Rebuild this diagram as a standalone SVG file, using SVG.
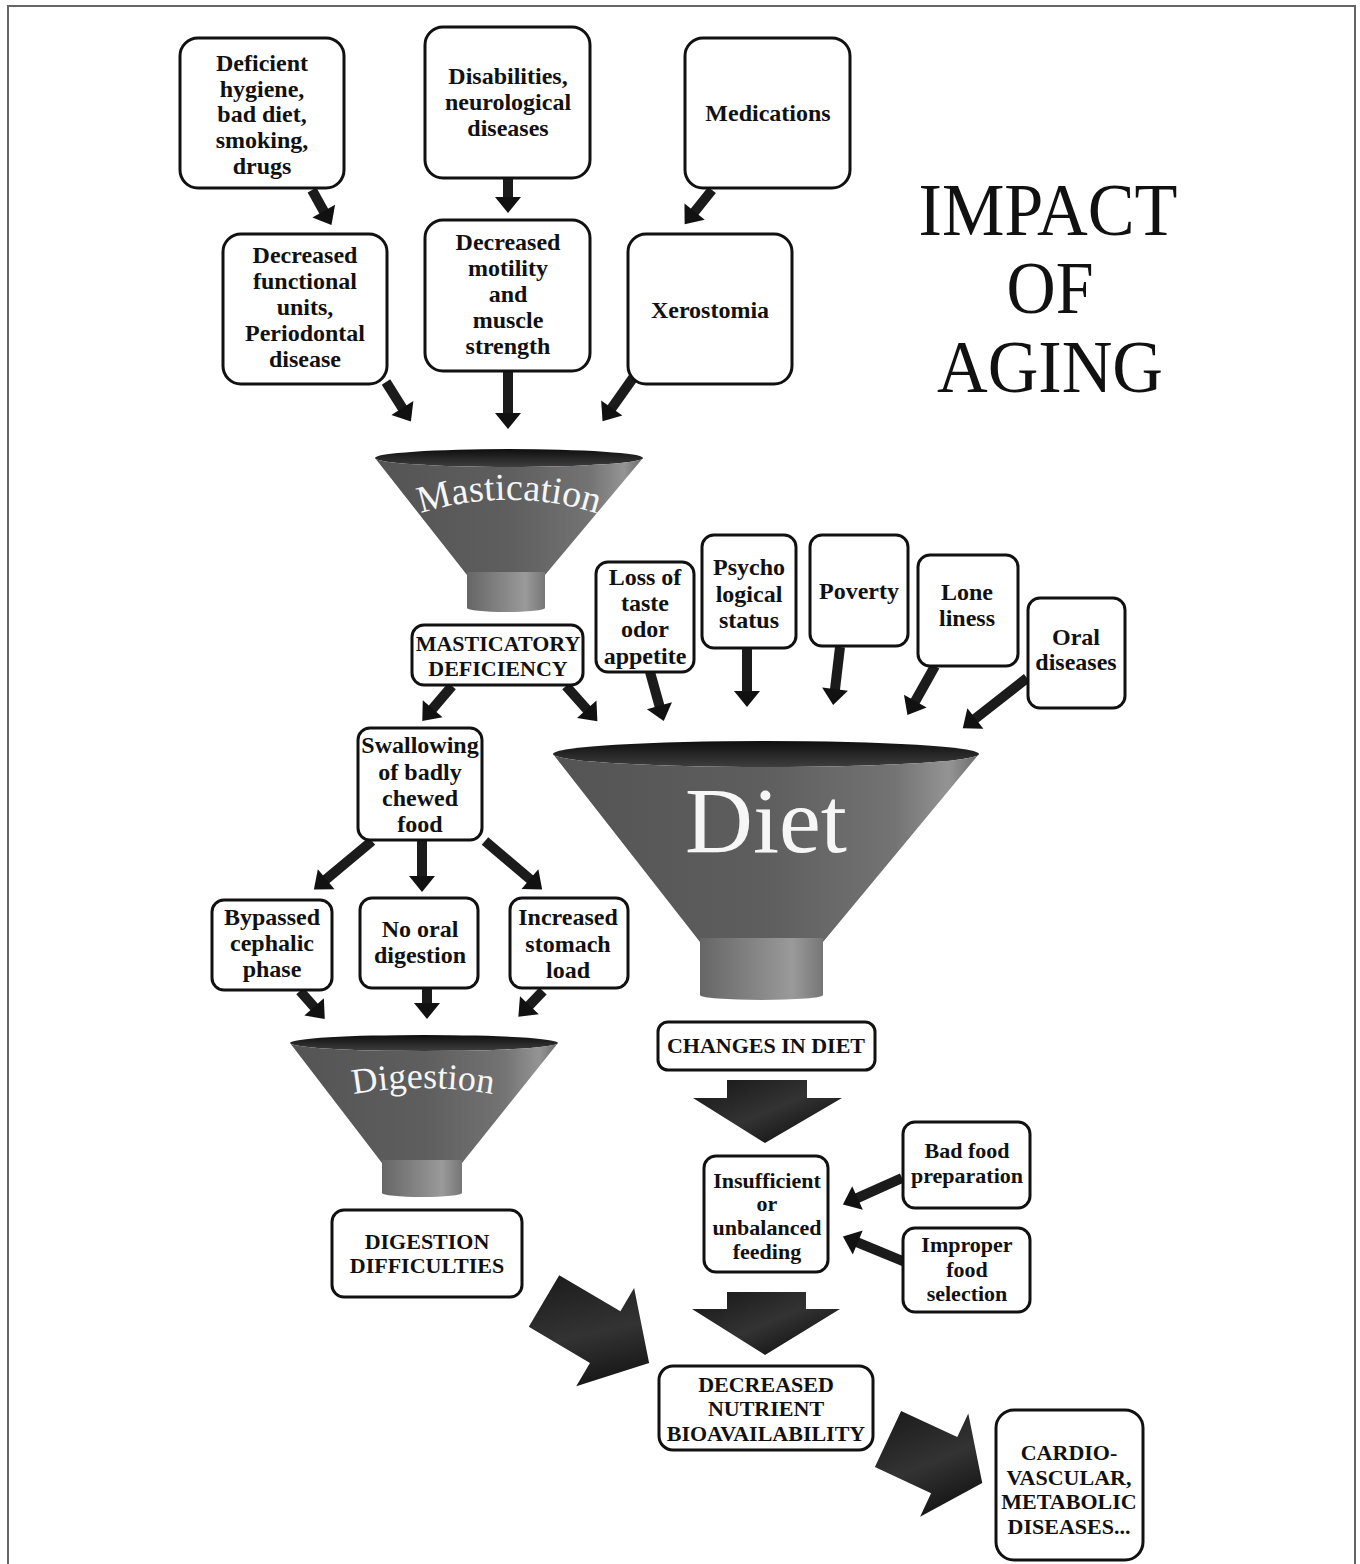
<svg xmlns="http://www.w3.org/2000/svg" width="1360" height="1564" viewBox="0 0 1360 1564">
<style>
.box{fill:#fff;stroke:#111;stroke-width:3}
.t{font-family:"Liberation Serif","Times New Roman",serif;font-weight:bold;font-size:24px;text-anchor:middle;fill:#111}
.s22{font-size:22px}
.title{font-family:"Liberation Serif","Times New Roman",serif;font-size:75px;text-anchor:middle;fill:#111}
.fl{font-family:"Liberation Serif","Times New Roman",serif;fill:#f6f6f6;text-anchor:middle}
.sh{stroke:#1b1b1b;stroke-width:10;fill:none;marker-end:url(#ah)}
.cone{fill:url(#coneG)}
.neck{fill:url(#neckG)}
.rim{fill:url(#rimG)}
.big{fill:url(#bigG)}
</style>
<defs>
<marker id="ah" markerUnits="userSpaceOnUse" markerWidth="20" markerHeight="28" refX="1" refY="13" orient="auto" overflow="visible">
<path d="M0,0 L16,13 L0,26 Z" fill="#111"/>
</marker>
<linearGradient id="coneG" x1="0" y1="0" x2="1" y2="0">
<stop offset="0" stop-color="#545454"/>
<stop offset="0.5" stop-color="#5e5e5e"/>
<stop offset="0.8" stop-color="#737373"/>
<stop offset="0.93" stop-color="#949494"/>
<stop offset="1" stop-color="#6c6c6c"/>
</linearGradient>
<linearGradient id="neckG" x1="0" y1="0" x2="1" y2="0">
<stop offset="0" stop-color="#666"/>
<stop offset="0.45" stop-color="#858585"/>
<stop offset="0.75" stop-color="#9a9a9a"/>
<stop offset="1" stop-color="#767676"/>
</linearGradient>
<linearGradient id="rimG" x1="0" y1="0" x2="0" y2="1">
<stop offset="0" stop-color="#0e0e0e"/>
<stop offset="1" stop-color="#3e3e3e"/>
</linearGradient>
<linearGradient id="bigG" x1="0" y1="0" x2="1" y2="1">
<stop offset="0" stop-color="#161616"/>
<stop offset="0.5" stop-color="#333"/>
<stop offset="1" stop-color="#050505"/>
</linearGradient>
<path id="arcMast" d="M400,521 A290 290 0 0 1 618,521"/>
<path id="arcDig" d="M323,1100.7 A400 400 0 0 1 523,1100.7"/>
</defs>
<rect x="0" y="0" width="1360" height="1564" fill="#fff"/>
<rect x="8" y="6" width="1347" height="1620" fill="none" stroke="#666" stroke-width="2"/>

<g id="title">
<text class="title" x="1048" y="235" textLength="259" lengthAdjust="spacingAndGlyphs">IMPACT</text>
<text class="title" x="1050" y="313" textLength="87" lengthAdjust="spacingAndGlyphs">OF</text>
<text class="title" x="1050" y="392" textLength="226" lengthAdjust="spacingAndGlyphs">AGING</text>
</g>

<g id="funnel-mastication">
<ellipse class="rim" cx="509" cy="458" rx="134" ry="9"/>
<path class="cone" d="M375,458 A134 9 0 0 0 643,458 L545,575 L467,575 Z"/>
<rect class="neck" x="467" y="572" width="78" height="36"/>
<ellipse class="neck" cx="506" cy="608" rx="39" ry="4"/>
<text class="fl" font-size="38"><textPath href="#arcMast" startOffset="50%">Mastication</textPath></text>
</g>

<g id="funnel-diet">
<ellipse class="rim" cx="766" cy="754" rx="213" ry="13"/>
<path class="cone" d="M553,754 A213 13 0 0 0 979,754 L823,942 L700,942 Z"/>
<rect class="neck" x="700" y="938" width="123" height="57"/>
<ellipse class="neck" cx="761.5" cy="995" rx="61.5" ry="5"/>
<text class="fl" x="766" y="852" font-size="94">Diet</text>
</g>

<g id="funnel-digestion">
<ellipse class="rim" cx="424" cy="1043" rx="134" ry="8"/>
<path class="cone" d="M290,1043 A134 8 0 0 0 558,1043 L462,1163 L382,1163 Z"/>
<rect class="neck" x="382" y="1160" width="80" height="33"/>
<ellipse class="neck" cx="422" cy="1193" rx="40" ry="4"/>
<text class="fl" font-size="36"><textPath href="#arcDig" startOffset="50%">Digestion</textPath></text>
</g>

<g id="connectors">
<line class="sh" x1="312" y1="190" x2="324.2" y2="212"/>
<line class="sh" x1="508" y1="178" x2="508" y2="198"/>
<line class="sh" x1="712" y1="190" x2="694" y2="212.5"/>
<line class="sh" x1="386" y1="382" x2="402.9" y2="408.8"/>
<line class="sh" x1="508" y1="372" x2="508" y2="414"/>
<line class="sh" x1="633" y1="378" x2="611.2" y2="408.9"/>
<line class="sh" x1="650" y1="672" x2="659.7" y2="706.6"/>
<line class="sh" x1="747" y1="648" x2="747" y2="692"/>
<line class="sh" x1="840" y1="647" x2="834.9" y2="690.1"/>
<line class="sh" x1="935" y1="666" x2="914.8" y2="702"/>
<line class="sh" x1="1027" y1="678" x2="974.6" y2="719.1"/>
<line class="sh" x1="452" y1="686" x2="432" y2="709.5"/>
<line class="sh" x1="566" y1="686" x2="587.4" y2="710"/>
<line class="sh" x1="372" y1="841" x2="325.4" y2="879.9"/>
<line class="sh" x1="422" y1="841" x2="422" y2="877"/>
<line class="sh" x1="485" y1="841" x2="530.7" y2="879.8"/>
<line class="sh" x1="300" y1="991" x2="314.8" y2="1007.7"/>
<line class="sh" x1="427" y1="989" x2="427" y2="1004"/>
<line class="sh" x1="543" y1="991" x2="528.7" y2="1006"/>
<line class="sh" x1="902" y1="1178" x2="856.6" y2="1198.4"/>
<line class="sh" x1="905" y1="1262" x2="856.8" y2="1242.1"/>
<polygon class="big" points="727,1080 807,1080 807,1098 842,1098 765,1143 693,1098 727,1098"/>
<polygon class="big" points="727,1292 806,1292 806,1309 840,1309 765,1355 692,1309 727,1309"/>
<polygon class="big" transform="translate(544,1301) rotate(30.5)" points="0,-30 71,-30 71,-57 122,0 71,57 71,30 0,30"/>
<polygon class="big" transform="translate(888,1439) rotate(25)" points="0,-31 62,-31 62,-57 104,0 62,57 62,31 0,31"/>
</g>

<g id="n-hygiene"><rect class="box" x="180" y="38" width="164" height="150" rx="18"/>
<text class="t"><tspan x="262" y="71">Deficient</tspan><tspan x="262" y="97">hygiene,</tspan><tspan x="262" y="122">bad diet,</tspan><tspan x="262" y="148">smoking,</tspan><tspan x="262" y="174">drugs</tspan></text></g>

<g id="n-disabilities"><rect class="box" x="425" y="27" width="165" height="151" rx="18"/>
<text class="t"><tspan x="508" y="84">Disabilities,</tspan><tspan x="508" y="110">neurological</tspan><tspan x="508" y="136">diseases</tspan></text></g>

<g id="n-medications"><rect class="box" x="685" y="38" width="165" height="150" rx="18"/>
<text class="t" x="768" y="121">Medications</text></g>

<g id="n-functional"><rect class="box" x="223" y="234" width="164" height="150" rx="18"/>
<text class="t"><tspan x="305" y="263">Decreased</tspan><tspan x="305" y="289">functional</tspan><tspan x="305" y="315">units,</tspan><tspan x="305" y="341">Periodontal</tspan><tspan x="305" y="367">disease</tspan></text></g>

<g id="n-motility"><rect class="box" x="425" y="220" width="165" height="151" rx="18"/>
<text class="t"><tspan x="508" y="250">Decreased</tspan><tspan x="508" y="276">motility</tspan><tspan x="508" y="302">and</tspan><tspan x="508" y="328">muscle</tspan><tspan x="508" y="354">strength</tspan></text></g>

<g id="n-xerostomia"><rect class="box" x="628" y="234" width="164" height="150" rx="18"/>
<text class="t" x="710" y="318">Xerostomia</text></g>

<g id="n-masticatory"><rect class="box" x="412" y="625" width="171" height="60" rx="12"/>
<text class="t s22"><tspan x="498" y="651">MASTICATORY</tspan><tspan x="498" y="676">DEFICIENCY</tspan></text></g>

<g id="n-loss"><rect class="box" x="596" y="562" width="98" height="110" rx="12"/>
<text class="t"><tspan x="645" y="585">Loss of</tspan><tspan x="645" y="611">taste</tspan><tspan x="645" y="637">odor</tspan><tspan x="645" y="664">appetite</tspan></text></g>

<g id="n-psycho"><rect class="box" x="702" y="535" width="94" height="113" rx="12"/>
<text class="t"><tspan x="749" y="575">Psycho</tspan><tspan x="749" y="602">logical</tspan><tspan x="749" y="628">status</tspan></text></g>

<g id="n-poverty"><rect class="box" x="810" y="535" width="98" height="111" rx="12"/>
<text class="t" x="859" y="599">Poverty</text></g>

<g id="n-loneliness"><rect class="box" x="918" y="555" width="100" height="111" rx="12"/>
<text class="t"><tspan x="967" y="600">Lone</tspan><tspan x="967" y="626">liness</tspan></text></g>

<g id="n-oral"><rect class="box" x="1028" y="598" width="97" height="110" rx="12"/>
<text class="t"><tspan x="1076" y="645">Oral</tspan><tspan x="1076" y="670">diseases</tspan></text></g>

<g id="n-swallowing"><rect class="box" x="358" y="728" width="124" height="112" rx="12"/>
<text class="t"><tspan x="420" y="753">Swallowing</tspan><tspan x="420" y="780">of badly</tspan><tspan x="420" y="806">chewed</tspan><tspan x="420" y="832">food</tspan></text></g>

<g id="n-bypassed"><rect class="box" x="212" y="900" width="120" height="90" rx="12"/>
<text class="t"><tspan x="272" y="925">Bypassed</tspan><tspan x="272" y="951">cephalic</tspan><tspan x="272" y="977">phase</tspan></text></g>

<g id="n-nooral"><rect class="box" x="360" y="898" width="118" height="90" rx="12"/>
<text class="t"><tspan x="420" y="937">No oral</tspan><tspan x="420" y="963">digestion</tspan></text></g>

<g id="n-stomach"><rect class="box" x="510" y="898" width="118" height="90" rx="12"/>
<text class="t"><tspan x="568" y="925">Increased</tspan><tspan x="568" y="952">stomach</tspan><tspan x="568" y="978">load</tspan></text></g>

<g id="n-digdiff"><rect class="box" x="332" y="1210" width="190" height="87" rx="12"/>
<text class="t s22"><tspan x="427" y="1249">DIGESTION</tspan><tspan x="427" y="1273">DIFFICULTIES</tspan></text></g>

<g id="n-changes"><rect class="box" x="658" y="1022" width="217" height="48" rx="10"/>
<text class="t s22" x="766" y="1053">CHANGES IN DIET</text></g>

<g id="n-insufficient"><rect class="box" x="704" y="1156" width="124" height="116" rx="12"/>
<text class="t s22"><tspan x="767" y="1188">Insufficient</tspan><tspan x="767" y="1211">or</tspan><tspan x="767" y="1235">unbalanced</tspan><tspan x="767" y="1259">feeding</tspan></text></g>

<g id="n-badfood"><rect class="box" x="903" y="1122" width="127" height="86" rx="12"/>
<text class="t s22"><tspan x="967" y="1158">Bad food</tspan><tspan x="967" y="1183">preparation</tspan></text></g>

<g id="n-improper"><rect class="box" x="903" y="1228" width="127" height="84" rx="12"/>
<text class="t s22"><tspan x="967" y="1252">Improper</tspan><tspan x="967" y="1277">food</tspan><tspan x="967" y="1301">selection</tspan></text></g>

<g id="n-nutrient"><rect class="box" x="659" y="1366" width="214" height="84" rx="14"/>
<text class="t s22"><tspan x="766" y="1392">DECREASED</tspan><tspan x="766" y="1416">NUTRIENT</tspan><tspan x="766" y="1441">BIOAVAILABILITY</tspan></text></g>

<g id="n-cardio"><rect class="box" x="996" y="1410" width="147" height="150" rx="18"/>
<text class="t s22"><tspan x="1069" y="1460">CARDIO-</tspan><tspan x="1069" y="1485">VASCULAR,</tspan><tspan x="1069" y="1509">METABOLIC</tspan><tspan x="1069" y="1534">DISEASES...</tspan></text></g>
</svg>
